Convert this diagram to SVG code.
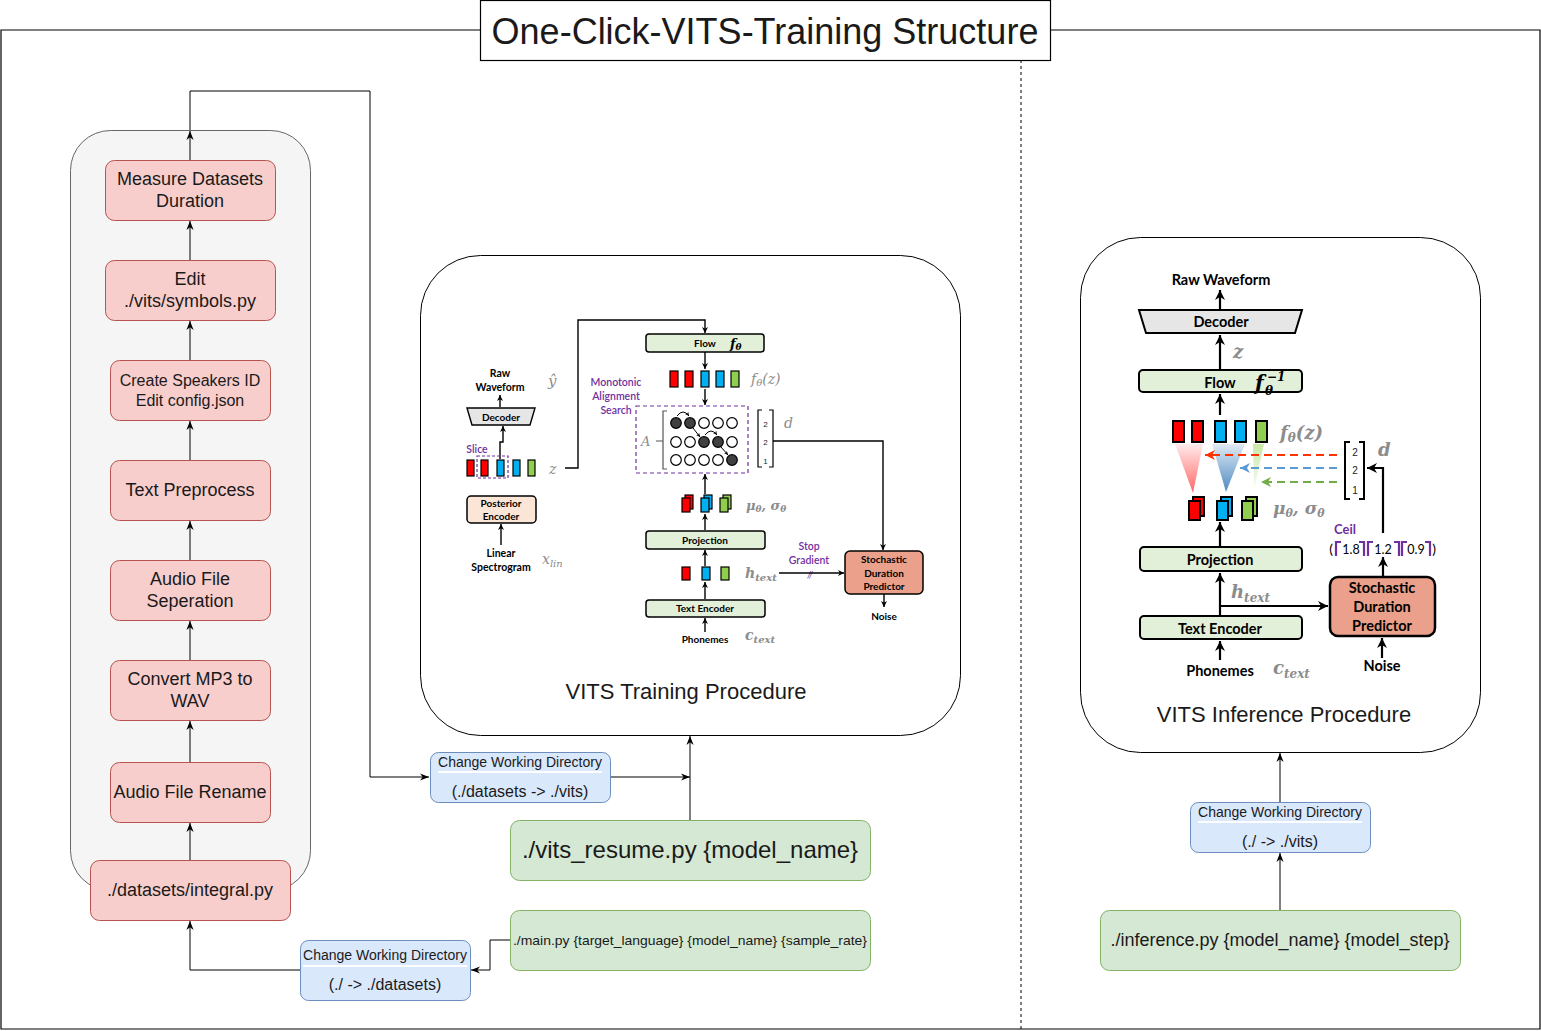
<svg xmlns="http://www.w3.org/2000/svg" width="1541" height="1031" viewBox="0 0 1541 1031">
<defs>
<marker id="a" viewBox="0 0 10 8" refX="10" refY="4" markerWidth="9" markerHeight="8" markerUnits="userSpaceOnUse" orient="auto"><path d="M0,0 L10,4 L0,8 L3,4z" fill="#000"/></marker>
<marker id="k" viewBox="0 0 10 10" refX="10" refY="5" markerWidth="6" markerHeight="6" markerUnits="userSpaceOnUse" orient="auto"><path d="M0,0 L10,5 L0,10 L3,5z" fill="#000"/></marker>
<marker id="ks" viewBox="0 0 10 10" refX="10" refY="5" markerWidth="4" markerHeight="4" markerUnits="userSpaceOnUse" orient="auto"><path d="M0,0 L10,5 L0,10 L3,5z" fill="#000"/></marker>
<marker id="K" viewBox="0 0 10 10" refX="10" refY="5" markerWidth="10" markerHeight="10" markerUnits="userSpaceOnUse" orient="auto"><path d="M0,0 L10,5 L0,10 L3,5z" fill="#000"/></marker>
<marker id="Kr" viewBox="0 0 10 10" refX="10" refY="5" markerWidth="10" markerHeight="10" markerUnits="userSpaceOnUse" orient="auto"><path d="M0,0 L10,5 L0,10 L3,5z" fill="#ff3300"/></marker>
<marker id="Kb" viewBox="0 0 10 10" refX="10" refY="5" markerWidth="10" markerHeight="10" markerUnits="userSpaceOnUse" orient="auto"><path d="M0,0 L10,5 L0,10 L3,5z" fill="#5b9bd5"/></marker>
<marker id="Kg" viewBox="0 0 10 10" refX="10" refY="5" markerWidth="10" markerHeight="10" markerUnits="userSpaceOnUse" orient="auto"><path d="M0,0 L10,5 L0,10 L3,5z" fill="#70ad47"/></marker>
<linearGradient id="gr" x1="0" y1="0" x2="0" y2="1"><stop offset="0" stop-color="#ff0000" stop-opacity="0.08"/><stop offset="1" stop-color="#ff0000" stop-opacity="0.6"/></linearGradient>
<linearGradient id="gb" x1="0" y1="0" x2="0" y2="1"><stop offset="0" stop-color="#2e75b6" stop-opacity="0.15"/><stop offset="1" stop-color="#2e75b6" stop-opacity="0.85"/></linearGradient>
<linearGradient id="gg" x1="0" y1="0" x2="0" y2="1"><stop offset="0" stop-color="#92d050" stop-opacity="0.5"/><stop offset="1" stop-color="#92d050" stop-opacity="0.05"/></linearGradient>
</defs>
<style>
.t{font-family:"Liberation Sans",Arial,sans-serif;fill:#1a1a1a;text-anchor:middle}
.red{fill:#f8cecc;stroke:#b85450;stroke-width:1}
.blue{fill:#dae8fc;stroke:#6c8ebf;stroke-width:1}
.green{fill:#d5e8d4;stroke:#82b366;stroke-width:1}
.c{fill:none;stroke:#000;stroke-width:1}
.v{font-family:Lato,"Open Sans",sans-serif;font-weight:700;text-anchor:middle;fill:#000}
.n{font-weight:400}
.sb{font-weight:600}
.pu{fill:#7030a0}
.m{font-family:"DejaVu Serif","Liberation Serif",serif;font-style:italic;fill:#8c8c8c}
.mk{fill:#000}
.vl{fill:none;stroke:#000;stroke-width:1.4}
.VL{fill:none;stroke:#000;stroke-width:2.2}
.R{fill:#ff0000;stroke:#000}
.B{fill:#00b0f0;stroke:#000}
.G{fill:#8fce4f;stroke:#000}
.box{fill:#e2efd9;stroke:#000}
.sdp{fill:#eaa08a;stroke:#000}
.dec{fill:#e7e6e6;stroke:#000}
</style>

<g id="frame">
<path d="M480,30 H1 V1029 H1540 V30 H1050" fill="none" stroke="#000" stroke-width="1.2"/>
<line x1="1021" y1="60" x2="1021" y2="1029" stroke="#000" stroke-width="1" stroke-dasharray="3,3"/>
</g>
<g id="title">
<rect x="480.5" y="0.5" width="570" height="60" fill="#fff" stroke="#000" stroke-width="1.2"/>
<text class="t" x="765" y="44" font-size="36">One-Click-VITS-Training Structure</text>
</g>

<g id="container">
<rect x="70.5" y="130.5" width="240" height="760" rx="40" fill="#f5f5f5" stroke="#666"/>
</g>

<g id="connectors">
<path class="c" d="M190,160 V131" marker-end="url(#a)"/>
<path class="c" d="M190,130 V91 H370 V777 H429" marker-end="url(#a)"/>
<path class="c" d="M190,260 V221" marker-end="url(#a)"/>
<path class="c" d="M190,360 V321" marker-end="url(#a)"/>
<path class="c" d="M190,460 V421" marker-end="url(#a)"/>
<path class="c" d="M190,560 V521" marker-end="url(#a)"/>
<path class="c" d="M190,660 V621" marker-end="url(#a)"/>
<path class="c" d="M190,762 V721" marker-end="url(#a)"/>
<path class="c" d="M190,860 V823" marker-end="url(#a)"/>
<path class="c" d="M610,777 H690" marker-end="url(#a)"/>
<path class="c" d="M690,820 V736" marker-end="url(#a)"/>
<path class="c" d="M510,940 H490 V970 H471" marker-end="url(#a)"/>
<path class="c" d="M300,970 H190 V921" marker-end="url(#a)"/>
<path class="c" d="M1280,802 V753" marker-end="url(#a)"/>
<path class="c" d="M1280,910 V853" marker-end="url(#a)"/>
</g>

<g id="n-measure"><rect class="red" x="105.5" y="160.5" width="170" height="60" rx="9"/><text class="t" x="190" y="185" font-size="18">Measure Datasets</text><text class="t" x="190" y="207" font-size="18">Duration</text></g>
<g id="n-symbols"><rect class="red" x="105.5" y="260.5" width="170" height="60" rx="9"/><text class="t" x="190" y="285" font-size="18">Edit</text><text class="t" x="190" y="307" font-size="18">./vits/symbols.py</text></g>
<g id="n-speakers"><rect class="red" x="110.5" y="360.5" width="160" height="60" rx="9"/><text class="t" x="190" y="386" font-size="16">Create Speakers ID</text><text class="t" x="190" y="406" font-size="16">Edit config.json</text></g>
<g id="n-textpre"><rect class="red" x="110.5" y="460.5" width="160" height="60" rx="9"/><text class="t" x="190" y="496" font-size="18">Text Preprocess</text></g>
<g id="n-sep"><rect class="red" x="110.5" y="560.5" width="160" height="60" rx="9"/><text class="t" x="190" y="585" font-size="18">Audio File</text><text class="t" x="190" y="607" font-size="18">Seperation</text></g>
<g id="n-mp3"><rect class="red" x="110.5" y="660.5" width="160" height="60" rx="9"/><text class="t" x="190" y="685" font-size="18">Convert MP3 to</text><text class="t" x="190" y="707" font-size="18">WAV</text></g>
<g id="n-rename"><rect class="red" x="110.5" y="762.5" width="160" height="60" rx="9"/><text class="t" x="190" y="798" font-size="18">Audio File Rename</text></g>
<g id="n-integral"><rect class="red" x="90.5" y="860.5" width="200" height="60" rx="9"/><text class="t" x="190" y="896" font-size="18">./datasets/integral.py</text></g>

<g id="n-cwd1"><rect class="blue" x="430.5" y="752.5" width="180" height="50" rx="8"/><text class="t" x="520" y="767" font-size="14">Change Working Directory</text><rect x="438" y="771" width="164" height="2" fill="#fff"/><text class="t" x="520" y="797" font-size="16">(./datasets -&gt; ./vits)</text></g>
<g id="n-cwd2"><rect class="blue" x="300.5" y="940.5" width="170" height="60" rx="8"/><text class="t" x="385" y="960" font-size="14">Change Working Directory</text><rect x="303" y="965" width="164" height="2" fill="#fff"/><text class="t" x="385" y="990" font-size="16">(./ -&gt; ./datasets)</text></g>
<g id="n-cwd3"><rect class="blue" x="1190.5" y="802.5" width="180" height="50" rx="8"/><text class="t" x="1280" y="817" font-size="14">Change Working Directory</text><rect x="1198" y="821" width="164" height="2" fill="#fff"/><text class="t" x="1280" y="847" font-size="16">(./ -&gt; ./vits)</text></g>

<g id="n-resume"><rect class="green" x="510.5" y="820.5" width="360" height="60" rx="9"/><text class="t" x="690" y="858" font-size="24">./vits_resume.py {model_name}</text></g>
<g id="n-main"><rect class="green" x="510.5" y="910.5" width="360" height="60" rx="9"/><text class="t" x="690" y="945" font-size="13" textLength="354" lengthAdjust="spacingAndGlyphs">./main.py {target_language} {model_name} {sample_rate}</text></g>
<g id="n-inference"><rect class="green" x="1100.5" y="910.5" width="360" height="60" rx="9"/><text class="t" x="1280" y="946" font-size="18">./inference.py {model_name} {model_step}</text></g>

<g id="n-training">
<rect x="420.5" y="255.5" width="540" height="480" rx="60" fill="#fff" stroke="#000"/>
<text class="t" x="686" y="699" font-size="22">VITS Training Procedure</text>
<text class="v" x="500" y="377" font-size="10.5">Raw</text>
<text class="v" x="500" y="391" font-size="10.5">Waveform</text>
<text class="m" x="548" y="386" font-size="15">ŷ</text>
<path class="vl" d="M500,407 V395" marker-end="url(#k)"/>
<polygon class="dec" stroke-width="1.4" points="467,408 535,408 530,425 472,425"/>
<text class="v" x="501" y="421" font-size="10">Decoder</text>
<path class="vl" d="M500,459 V442 H503 V426" marker-end="url(#k)"/>
<text class="v pu sb" x="477" y="453" font-size="10.5">Slice</text>
<rect class="R" x="467" y="460" width="7" height="16" stroke-width="1.2"/>
<rect class="R" x="481" y="460" width="7" height="16" stroke-width="1.2"/>
<rect class="B" x="497" y="460" width="7" height="16" stroke-width="1.2"/>
<rect class="B" x="513" y="460" width="7" height="16" stroke-width="1.2"/>
<rect class="G" x="528" y="460" width="7" height="16" stroke-width="1.2"/>
<rect x="477" y="456" width="31" height="22" fill="none" stroke="#7030a0" stroke-width="1.2" stroke-dasharray="3,2"/>
<text class="m" x="549" y="474" font-size="14">z</text>
<rect x="467" y="496" width="69" height="27" rx="4" fill="#fbe5d6" stroke="#000" stroke-width="1.5"/>
<text class="v" x="501" y="507" font-size="10">Posterior</text>
<text class="v" x="501" y="520" font-size="10">Encoder</text>
<path class="vl" d="M501,545 V524" marker-end="url(#k)"/>
<text class="v" x="501" y="557" font-size="10.5">Linear</text>
<text class="v" x="501" y="571" font-size="10.5">Spectrogram</text>
<text class="m" x="542" y="564" font-size="14">x<tspan font-size="10" dy="3">lin</tspan></text>
<path class="vl" d="M565,468 H578 V320 H705 V333" marker-end="url(#k)"/>
<rect class="box" x="646" y="334" width="118" height="18" rx="3" stroke-width="1.5"/>
<text class="v" x="705" y="347" font-size="10">Flow</text>
<text class="m mk" x="730" y="348" font-size="13" font-weight="700">f<tspan font-size="9" dy="2">θ</tspan></text>
<path class="vl" d="M705,352 V369" marker-end="url(#k)"/>
<rect class="R" x="670" y="371" width="8" height="16" stroke-width="1.2"/>
<rect class="R" x="685" y="371" width="8" height="16" stroke-width="1.2"/>
<rect class="B" x="701" y="371" width="8" height="16" stroke-width="1.2"/>
<rect class="B" x="716" y="371" width="8" height="16" stroke-width="1.2"/>
<rect class="G" x="731" y="371" width="8" height="16" stroke-width="1.2"/>
<text class="m" x="751" y="384" font-size="14">f<tspan font-size="10" dy="2">θ</tspan><tspan dy="-2">(z)</tspan></text>
<path class="vl" d="M705,389 V405" marker-end="url(#k)"/>
<text class="v pu sb" x="616" y="386" font-size="10.5">Monotonic</text>
<text class="v pu sb" x="616" y="400" font-size="10.5">Alignment</text>
<text class="v pu sb" x="616" y="414" font-size="10.5">Search</text>
<rect x="636" y="406" width="112" height="67" fill="none" stroke="#7030a0" stroke-width="1.2" stroke-dasharray="4,3"/>
<text class="m" x="641" y="446" font-size="13">A</text>
<path fill="none" stroke="#555" stroke-width="1.2" d="M667,411 H663 V469 H667 M656,441 H663"/>
<g stroke="#000" stroke-width="1.2">
<circle cx="676" cy="423" r="5.3" fill="#404040"/><circle cx="690" cy="423" r="5.3" fill="#404040"/><circle cx="704" cy="423" r="5.3" fill="#fff"/><circle cx="718" cy="423" r="5.3" fill="#fff"/><circle cx="732" cy="423" r="5.3" fill="#fff"/>
<circle cx="676" cy="442" r="5.3" fill="#fff"/><circle cx="690" cy="442" r="5.3" fill="#fff"/><circle cx="704" cy="442" r="5.3" fill="#404040"/><circle cx="718" cy="442" r="5.3" fill="#404040"/><circle cx="732" cy="442" r="5.3" fill="#fff"/>
<circle cx="676" cy="460" r="5.3" fill="#fff"/><circle cx="690" cy="460" r="5.3" fill="#fff"/><circle cx="704" cy="460" r="5.3" fill="#fff"/><circle cx="718" cy="460" r="5.3" fill="#fff"/><circle cx="732" cy="460" r="5.3" fill="#404040"/>
</g>
<g fill="none" stroke="#000" stroke-width="1">
<path d="M677,416 Q683,408 689,416" marker-end="url(#ks)"/>
<path d="M693,428 L700,437" marker-end="url(#ks)"/>
<path d="M705,435 Q711,427 717,435" marker-end="url(#ks)"/>
<path d="M721,447 L728,455" marker-end="url(#ks)"/>
</g>
<path fill="none" stroke="#000" stroke-width="1.2" d="M762,410 H758 V467 H762 M769,410 H773 V467 H769"/>
<text class="t" x="765.5" y="427" font-size="8">2</text>
<text class="t" x="765.5" y="445" font-size="8">2</text>
<text class="t" x="765.5" y="464" font-size="8">1</text>
<text class="m" x="784" y="428" font-size="14">d</text>
<path class="vl" d="M773,441 H883 V550" marker-end="url(#k)"/>
<path class="vl" d="M705,494 V474" marker-end="url(#k)"/>
<g stroke-width="1.2">
<rect class="R" x="685" y="495" width="8" height="14"/><rect class="R" x="682" y="498" width="8" height="14"/>
<rect class="B" x="704" y="495" width="8" height="14"/><rect class="B" x="701" y="498" width="8" height="14"/>
<rect class="G" x="723" y="495" width="8" height="14"/><rect class="G" x="720" y="498" width="8" height="14"/>
</g>
<text class="m" x="746" y="510" font-size="13" font-weight="700">μ<tspan font-size="9" dy="2">θ</tspan><tspan dy="-2">, σ</tspan><tspan font-size="9" dy="2">θ</tspan></text>
<path class="vl" d="M705,530 V514" marker-end="url(#k)"/>
<rect class="box" x="646" y="531" width="119" height="18" rx="3" stroke-width="1.5"/>
<text class="v" x="705" y="544" font-size="10">Projection</text>
<path class="vl" d="M705,566 V550" marker-end="url(#k)"/>
<rect class="R" x="682" y="567" width="8" height="13" stroke-width="1.2"/>
<rect class="B" x="702" y="567" width="8" height="13" stroke-width="1.2"/>
<rect class="G" x="721" y="567" width="8" height="13" stroke-width="1.2"/>
<text class="m" x="745" y="578" font-size="14" font-weight="700">h<tspan font-size="10" dy="3">text</tspan></text>
<path class="vl" d="M705,599 V582" marker-end="url(#k)"/>
<rect class="box" x="646" y="600" width="119" height="17" rx="3" stroke-width="1.5"/>
<text class="v" x="705" y="612" font-size="10">Text Encoder</text>
<path class="vl" d="M705,632 V618" marker-end="url(#k)"/>
<text class="v" x="705" y="643" font-size="10">Phonemes</text>
<text class="m" x="745" y="640" font-size="14" font-weight="700">c<tspan font-size="10" dy="3">text</tspan></text>
<text class="v pu sb" x="809" y="550" font-size="10.5">Stop</text>
<text class="v pu sb" x="809" y="564" font-size="10.5">Gradient</text>
<text class="v pu n" x="810" y="578" font-size="9" font-style="italic">//</text>
<path class="vl" d="M779,573 H844" marker-end="url(#k)"/>
<rect class="sdp" x="845" y="551" width="78" height="43" rx="5" stroke-width="1.5"/>
<text class="v" x="884" y="563" font-size="10">Stochastic</text>
<text class="v" x="884" y="577" font-size="10">Duration</text>
<text class="v" x="884" y="590" font-size="10">Predictor</text>
<path class="vl" d="M884,594 V607" marker-end="url(#k)"/>
<text class="v" x="884" y="620" font-size="10">Noise</text>
</g>

<g id="n-inference-proc">
<rect x="1080.5" y="237.5" width="400" height="515" rx="60" fill="#fff" stroke="#000"/>
<text class="t" x="1284" y="722" font-size="22">VITS Inference Procedure</text>
<text class="v" x="1221" y="285" font-size="14.5">Raw Waveform</text>
<path class="VL" d="M1220,310 V290" marker-end="url(#K)"/>
<polygon class="dec" stroke-width="2" points="1139,310 1302,310 1295,333 1146,333"/>
<text class="v" x="1221" y="327" font-size="14.5">Decoder</text>
<path class="VL" d="M1220,370 V335" marker-end="url(#K)"/>
<text class="m" x="1233" y="358" font-size="18" font-weight="700">z</text>
<rect class="box" x="1139" y="370" width="163" height="22" rx="4" stroke-width="2"/>
<text class="v" x="1220" y="388" font-size="14.5">Flow</text>
<text class="m mk" x="1255" y="390" font-size="20" font-weight="700">f</text>
<text class="m mk" x="1265" y="395" font-size="12" font-weight="700">θ</text>
<text class="m mk" x="1267" y="381" font-size="12" font-weight="700">−1</text>
<path class="VL" d="M1220,415 V394" marker-end="url(#K)"/>
<g stroke-width="2">
<rect class="R" x="1173" y="421" width="11" height="21"/>
<rect class="R" x="1192" y="421" width="11" height="21"/>
<rect class="B" x="1215" y="421" width="11" height="21"/>
<rect class="B" x="1235" y="421" width="11" height="21"/>
<rect class="G" x="1256" y="421" width="11" height="21"/>
</g>
<text class="m" x="1280" y="439" font-size="18" font-weight="700">f<tspan font-size="12" dy="3">θ</tspan><tspan dy="-3">(z)</tspan></text>
<polygon points="1175,444 1203,444 1193,493" fill="url(#gr)"/>
<polygon points="1212,444 1245,444 1226,492" fill="url(#gb)"/>
<polygon points="1253,444 1264,444 1254,490" fill="url(#gg)"/>
<path d="M1337,455 H1205" fill="none" stroke="#ff3300" stroke-width="2" stroke-dasharray="8,5" marker-end="url(#Kr)"/>
<path d="M1337,468 H1240" fill="none" stroke="#5b9bd5" stroke-width="2" stroke-dasharray="8,5" marker-end="url(#Kb)"/>
<path d="M1337,482 H1261" fill="none" stroke="#70ad47" stroke-width="2" stroke-dasharray="8,5" marker-end="url(#Kg)"/>
<path fill="none" stroke="#000" stroke-width="2" d="M1350,442 H1345 V499 H1350 M1359,442 H1364 V499 H1359"/>
<text class="t" x="1355" y="456" font-size="10">2</text>
<text class="t" x="1355" y="474" font-size="10">2</text>
<text class="t" x="1355" y="494" font-size="10">1</text>
<text class="m" x="1378" y="456" font-size="18" font-weight="700">d</text>
<path class="VL" d="M1383,533 V468 H1367" marker-end="url(#K)"/>
<g stroke-width="2">
<rect class="R" x="1193" y="497" width="11" height="19"/><rect class="R" x="1189" y="501" width="11" height="19"/>
<rect class="B" x="1221" y="497" width="11" height="19"/><rect class="B" x="1217" y="501" width="11" height="19"/>
<rect class="G" x="1246" y="497" width="11" height="19"/><rect class="G" x="1242" y="501" width="11" height="19"/>
</g>
<text class="m" x="1273" y="514" font-size="17" font-weight="700">μ<tspan font-size="11" dy="3">θ</tspan><tspan dy="-3">, σ</tspan><tspan font-size="11" dy="3">θ</tspan></text>
<path class="VL" d="M1220,547 V522" marker-end="url(#K)"/>
<text class="v pu" x="1345" y="534" font-size="13">Ceil</text>
<text class="v n" x="1331" y="554" font-size="14">(</text>
<text class="v n" x="1434" y="554" font-size="14">)</text>
<text class="v n" x="1351" y="554" font-size="12.5">1.8</text>
<text class="v n" x="1383" y="554" font-size="12.5">1.2</text>
<text class="v n" x="1416" y="554" font-size="12.5">0.9</text>
<path fill="none" stroke="#7030a0" stroke-width="2.2" d="M1336,556 V542 H1341 M1359,542 H1364 V556 M1368,556 V542 H1373 M1394,542 H1399 V556 M1402,556 V542 H1407 M1425,542 H1430 V556"/>
<path class="VL" d="M1383,577 V557" marker-end="url(#K)"/>
<rect class="box" x="1140" y="547" width="162" height="24" rx="4" stroke-width="2"/>
<text class="v" x="1220" y="565" font-size="14.5">Projection</text>
<path class="VL" d="M1220,616 V573" marker-end="url(#K)"/>
<path class="VL" d="M1220,606 H1328" marker-end="url(#K)"/>
<text class="m" x="1231" y="598" font-size="18" font-weight="700">h<tspan font-size="12" dy="4">text</tspan></text>
<rect class="box" x="1140" y="616" width="162" height="23" rx="4" stroke-width="2"/>
<text class="v" x="1220" y="634" font-size="14.5">Text Encoder</text>
<path class="VL" d="M1220,660 V641" marker-end="url(#K)"/>
<text class="v" x="1220" y="676" font-size="14.5">Phonemes</text>
<text class="m" x="1273" y="674" font-size="18" font-weight="700">c<tspan font-size="12" dy="4">text</tspan></text>
<rect class="sdp" x="1330" y="577" width="105" height="59" rx="8" stroke-width="2.5"/>
<text class="v" x="1382" y="593" font-size="14.5">Stochastic</text>
<text class="v" x="1382" y="612" font-size="14.5">Duration</text>
<text class="v" x="1382" y="631" font-size="14.5">Predictor</text>
<path class="VL" d="M1382,658 V638" marker-end="url(#K)"/>
<text class="v" x="1382" y="671" font-size="14.5">Noise</text>
</g>
</svg>
